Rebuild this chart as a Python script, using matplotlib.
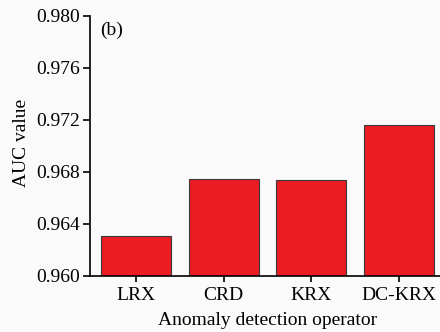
import matplotlib
matplotlib.use('Agg')
import matplotlib.pyplot as plt

operators = ['LRX', 'CRD', 'KRX', 'DC-KRX']
auc = [0.96305, 0.96745, 0.96738, 0.97160]
yticks = [0.960, 0.964, 0.968, 0.972, 0.976, 0.980]

plt.rcParams['font.family'] = 'Liberation Serif'
plt.rcParams['font.size'] = 14

fig = plt.figure(figsize=(4.4, 3.32), dpi=100, facecolor='#fafafa')
ax = fig.add_axes([0.2045, 0.169, 0.805, 0.783])
ax.set_facecolor('#fafafa')

x = range(len(operators))
ax.bar(x, auc, width=0.8, color='#ed1c24', edgecolor='#3a3a3a', linewidth=0.8)

ax.set_ylim(0.960, 0.980)
ax.set_xlim(-0.526, 3.52)
ax.set_yticks(yticks)
ax.set_yticklabels(['%.3f' % v for v in yticks])
ax.set_xticks(list(x))
ax.set_xticklabels(operators)

for s in ['top', 'right']:
    ax.spines[s].set_visible(False)
for s in ['left', 'bottom']:
    ax.spines[s].set_linewidth(1.2)
ax.tick_params(axis='y', direction='out', length=5, width=1.2, pad=2)
ax.tick_params(axis='x', direction='out', length=4, width=1.2, pad=4)

ax.set_ylabel('AUC value')
ax.yaxis.set_label_coords(-0.168, 0.513)
ax.set_xlabel('Anomaly detection operator', labelpad=6)
ax.text(0.03, 0.925, '(b)', transform=ax.transAxes)

plt.savefig('out.png', dpi=100, facecolor='#fafafa')
